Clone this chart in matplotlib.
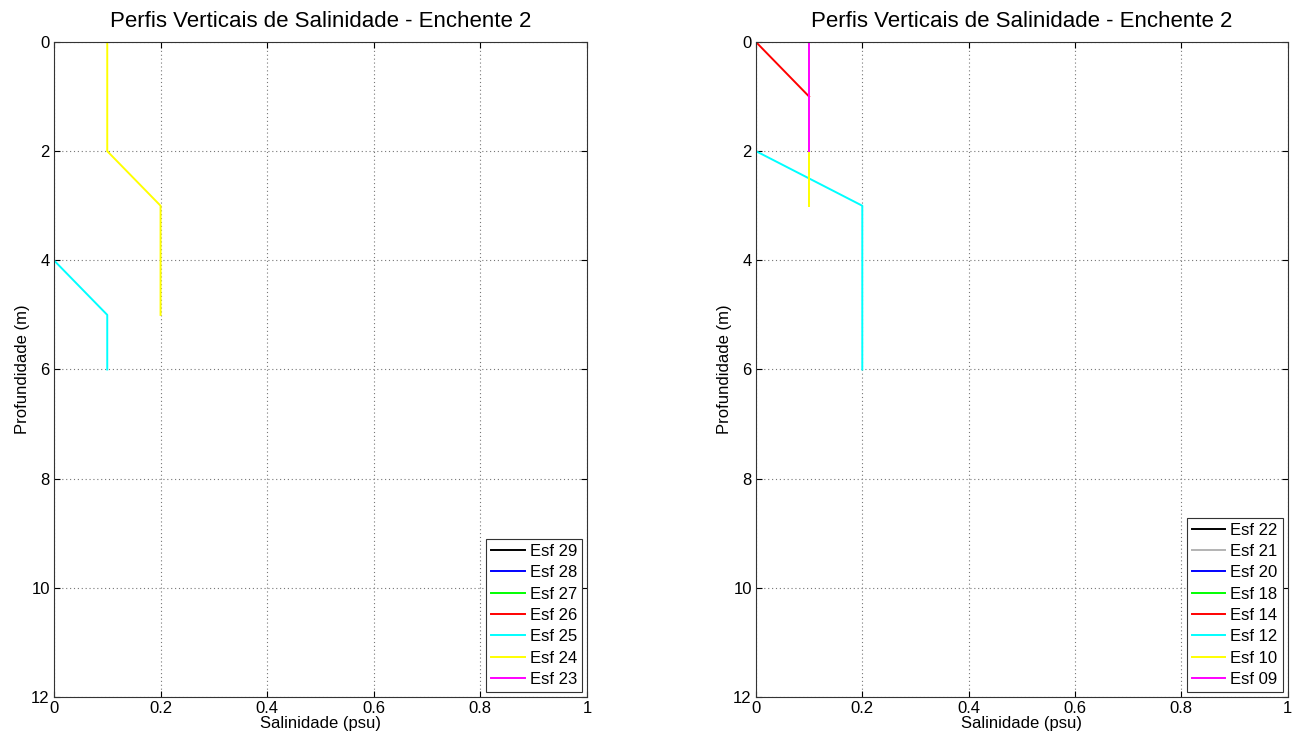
import matplotlib
matplotlib.use("Agg")
import matplotlib.pyplot as plt

plt.rcParams['font.family'] = ['Liberation Sans', 'DejaVu Sans']

# Enchente 2 - estações do painel esquerdo
esq_nomes = ["Esf 29", "Esf 28", "Esf 27", "Esf 26", "Esf 25", "Esf 24", "Esf 23"]
esq_cores = ["#000000", "#0000ff", "#00ff00", "#ff0000", "#00ffff", "#ffff00", "#ff00ff"]
esq_sal = [[], [], [], [], [0, 0.1, 0.1], [0.1, 0.1, 0.2, 0.2, 0.2], []]
esq_prof = [[], [], [], [], [4, 5, 6], [0, 2, 3, 4, 5], []]

# painel direito
dir_nomes = ["Esf 22", "Esf 21", "Esf 20", "Esf 18", "Esf 14", "Esf 12", "Esf 10", "Esf 09"]
dir_cores = ["#000000", "#b3b3b3", "#0000ff", "#00ff00", "#ff0000", "#00ffff", "#ffff00", "#ff00ff"]
dir_sal = [[], [], [], [], [0, 0.1], [0, 0.2, 0.2, 0.2, 0.2], [0.1, 0.1], [0.1, 0.1, 0.1]]
dir_prof = [[], [], [], [], [0, 1], [2, 3, 4, 5, 6], [2, 3], [0, 1, 2]]

fig = plt.figure(figsize=(13, 7.38), dpi=100)
ax1 = fig.add_axes([0.0415, 0.0556, 0.41, 0.8875])
ax2 = fig.add_axes([0.5815, 0.0556, 0.409, 0.8875])

for ax, nomes, cores, sal, prof in [(ax1, esq_nomes, esq_cores, esq_sal, esq_prof),
                                    (ax2, dir_nomes, dir_cores, dir_sal, dir_prof)]:
    for n, c, s, p in zip(nomes, cores, sal, prof):
        ax.plot(s, p, color=c, lw=1.4, label=n)
    ax.set_xlim(0, 1)
    ax.set_ylim(12, 0)
    ax.set_xticks([0, 0.2, 0.4, 0.6, 0.8, 1])
    ax.set_xticklabels(["0", "0.2", "0.4", "0.6", "0.8", "1"])
    ax.set_yticks(range(0, 13, 2))
    ax.grid(True, color='#777777', lw=0.8, dashes=(1, 2.5))
    ax.tick_params(direction='in', top=True, right=True, labelsize=12, length=4, pad=3)
    ax.set_xlabel("Salinidade (psu)", fontsize=12, labelpad=0)
    ax.set_ylabel("Profundidade (m)", fontsize=12, labelpad=1)
    ax.set_title("Perfis Verticais de Salinidade - Enchente 2", fontsize=16, pad=11)
    for sp in ax.spines.values():
        sp.set_color('#333333')
    leg = ax.legend(loc='lower right', fontsize=12, fancybox=False, framealpha=1,
                    edgecolor='#333333', handlelength=2.0, labelspacing=0.38,
                    borderaxespad=0.3, handletextpad=0.3, borderpad=0.3)
    leg.get_frame().set_linewidth(0.8)

fig.savefig("out.png", dpi=100)
